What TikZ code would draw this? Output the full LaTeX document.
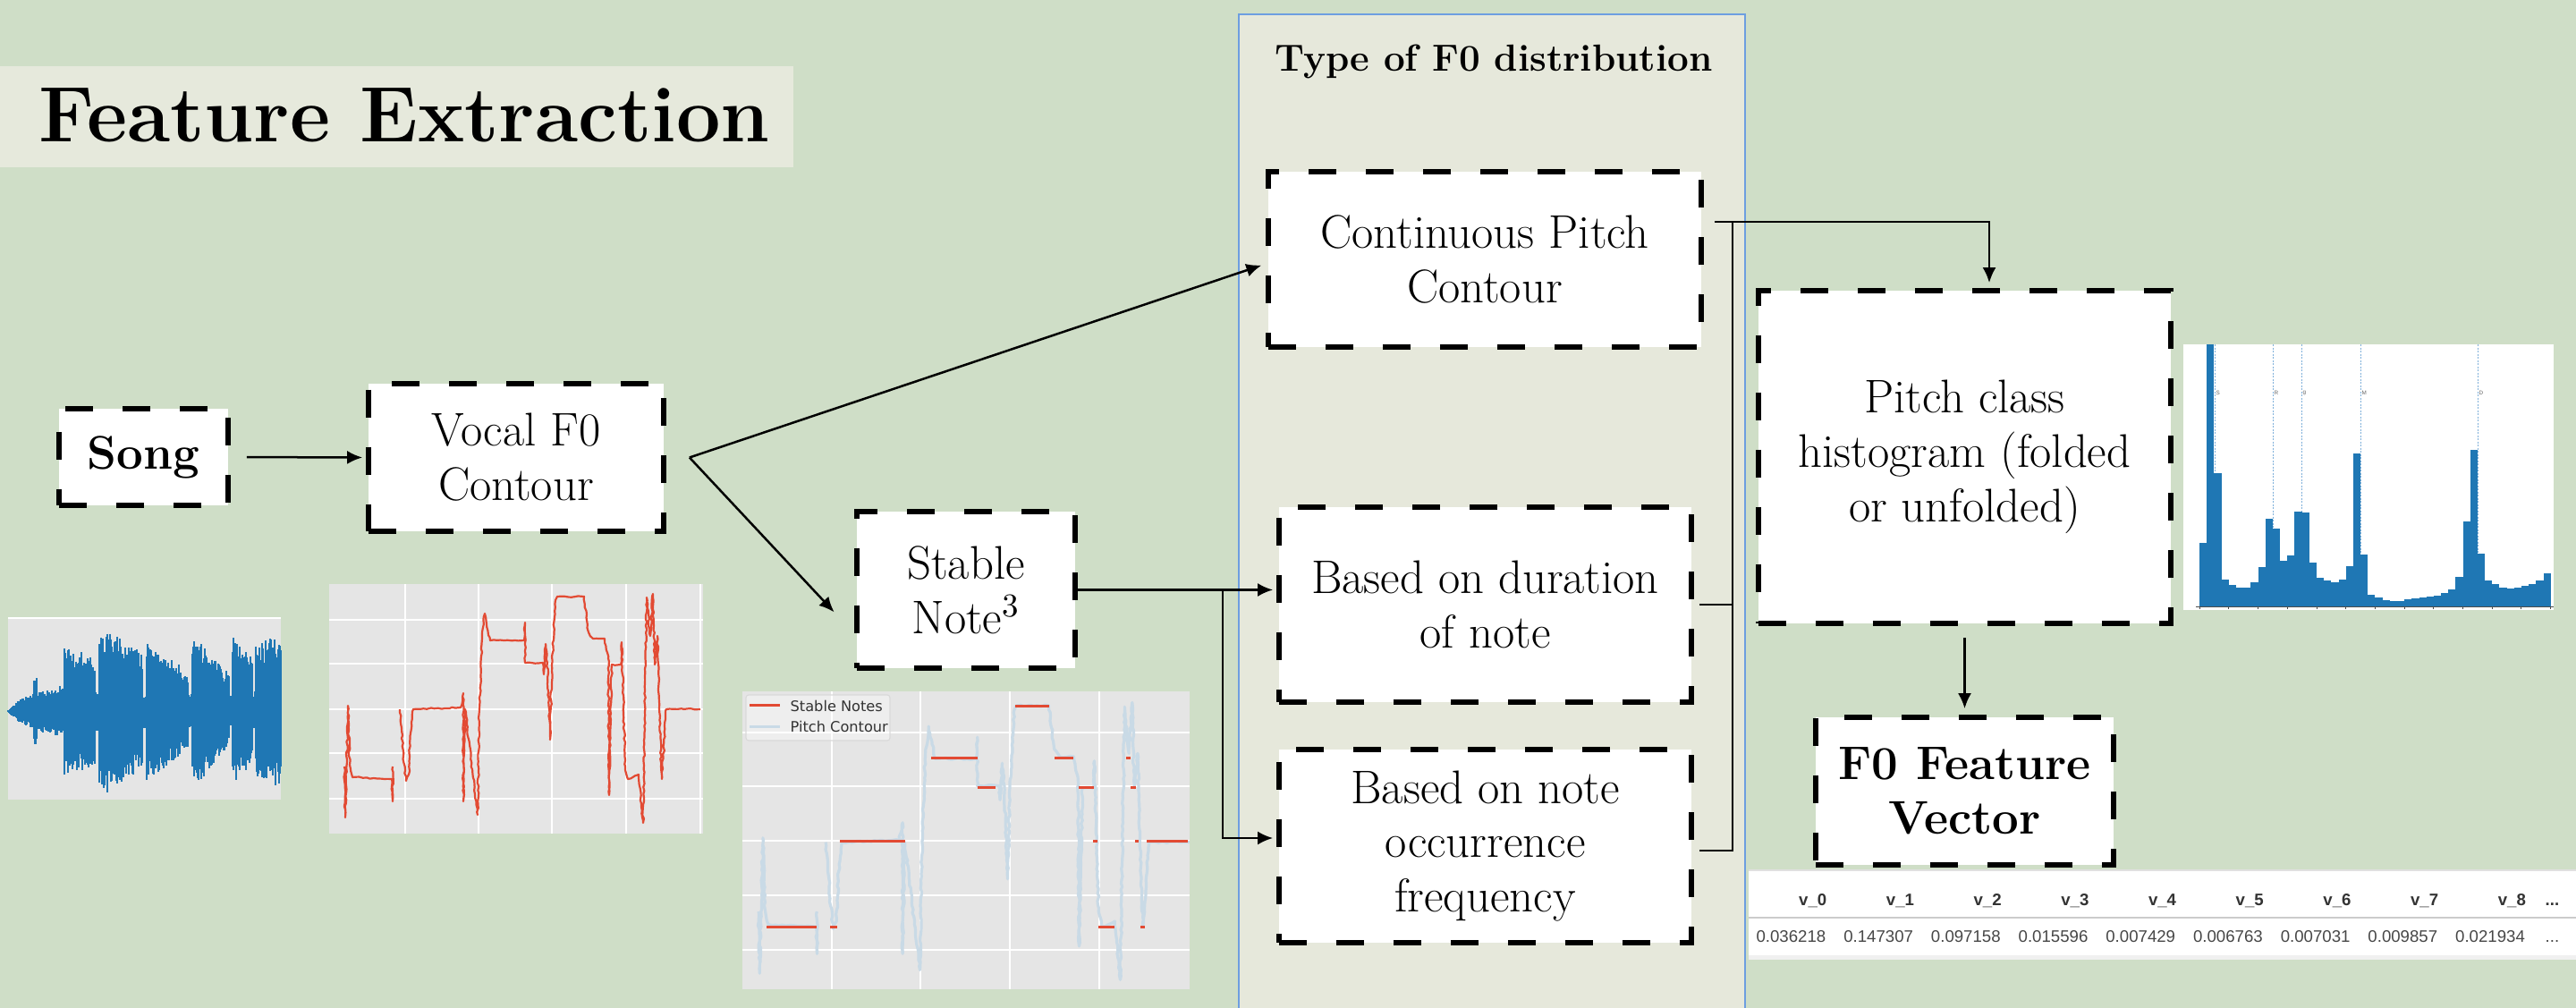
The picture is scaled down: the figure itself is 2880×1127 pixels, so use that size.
\documentclass[tikz,border=0pt]{standalone}
\usepackage{fontspec}
\newfontfamily\tabfont{Liberation Sans}
\newfontfamily\legfont{DejaVu Sans}
\usetikzlibrary{arrows.meta,decorations.pathmorphing}
\definecolor{bgc}{HTML}{CFDEC7}
\definecolor{titlefill}{HTML}{E6E9DC}
\definecolor{panelfill}{HTML}{E6E8DB}
\definecolor{panelline}{HTML}{6D9EE0}
\definecolor{plotbg}{HTML}{E5E5E5}
\definecolor{waveblue}{HTML}{1F77B4}
\definecolor{plotred}{HTML}{E24A33}
\definecolor{paleblue}{HTML}{C9DAE6}
\definecolor{dashblue}{HTML}{7FB0DA}
\tikzset{contour/.pic={
  \draw[decorate, decoration={random steps, segment length=0.04cm, amplitude=0.009cm}, line join=round]
  (385,857) -- (386,914) -- (389,789) -- (391,855) -- (394,869) -- (438,871) -- (439,896) -- (439,857)
  (447,793) -- (449,814) -- (451,845) -- (454,873) -- (457,866) -- (459,820) -- (462,793) -- (515,791)
  -- (518,775) -- (518,896) -- (520,793) -- (534,911) -- (536,793) -- (539,714) -- (542,686) -- (548,716)
  -- (586,716) -- (587,696) -- (587,741) -- (607,741) -- (608,754) -- (610,720) -- (612,741) -- (615,827)
  -- (617,743) -- (621,671) -- (623,667) -- (653,667) -- (658,707) -- (663,714) -- (676,714) -- (680,736)
  -- (681,889) -- (684,743) -- (694,743) -- (695,718) -- (699,857) -- (702,871) -- (714,866) -- (719,920)
  -- (723,668) -- (727,711) -- (730,664) -- (732,743) -- (735,711) -- (737,793) -- (740,871) -- (745,793)
  -- (783,793);
}}
\begin{document}
\begin{tikzpicture}[x=0.01cm,y=-0.01cm,
  dbox/.style={draw=black, fill=white, line width=0.055cm, dash pattern=on 0.31cm off 0.33cm,
    inner sep=0pt, align=center, font=\fontsize{15}{17.3}\selectfont},
  bbox/.style={dbox, font=\fontsize{15}{17.3}\selectfont\bfseries},
  conn/.style={line width=0.025cm},
  arr/.style={conn, -{Latex[length=0.17cm,width=0.15cm]}},
  grid/.style={white, line width=0.02cm}]
\pgfmathsetseed{7}
% background
\path[use as bounding box, fill=bgc] (0,0) rectangle (2880,1127);
% title
\node[fill=titlefill, minimum width=8.87cm, minimum height=1.13cm, inner sep=0pt] (titlebox) at (443.5,130.5) {};
\node[font=\fontsize{25}{30}\selectfont\bfseries, inner sep=0pt] (title) at (452,129) {Feature Extraction};
% panel
\fill[panelfill] (1385,16) rectangle (1951,1127);
\draw[panelline, line width=0.4pt] (1385,1127) |- (1951,16) -- (1951,1127);
\node[font=\fontsize{12}{14}\selectfont\bfseries, anchor=base, inner sep=0pt] (ptitle) at (1670,80) {Type of F0 distribution};

% waveform image
\fill[plotbg] (9,691) rectangle (314,894);
\draw[white, line width=0.02cm] (9,691) -- (314,691);
\foreach \xa/\xb/\aa/\ab in {9/20/1/12, 20/38/12/20, 38/41/38/38, 41/72/22/30, 72/106/74/62, 107/110/22/22,
  111/120/80/92, 120/159/92/65, 160/163/20/20, 164/210/78/46, 211/214/22/22, 215/256/88/42, 257/259/20/20,
  260/282/84/66, 283/285/22/22, 286/314/74/86}{
  \foreach \x in {\xa,...,\xb}{
    \pgfmathsetmacro\amp{\aa+(\ab-\aa)*(\x-\xa)/(\xb-\xa)}
    \pgfmathsetmacro\up{\amp*(0.66+0.34*rnd)}
    \pgfmathsetmacro\dn{\amp*(0.66+0.34*rnd)}
    \draw[waveblue, line width=0.013cm] (\x,795-\up) -- (\x,795+\dn);
  }
}

% red contour plot
\fill[plotbg] (368,653) rectangle (786,932);
\foreach \gx in {453,535,617,700,783} \draw[grid] (\gx,653) -- (\gx,932);
\foreach \gy in {693,742,793,842,893} \draw[grid] (368,\gy) -- (786,\gy);
\pic[color=plotred, line width=0.022cm] at (0,0) {contour};

% stable notes plot
\fill[plotbg] (830,773) rectangle (1330,1106);
\foreach \gx in {930,1029,1129,1229} \draw[grid] (\gx,773) -- (\gx,1106);
\foreach \gy in {819,879,940,1001,1062} \draw[grid] (830,\gy) -- (1330,\gy);
\pic[color=paleblue, line width=0.032cm, shift={(381.8,-18.7)}, scale=1.211] at (0,0) {contour};
\foreach \ya/\xa/\xb in {1036/857/913, 1036/928/936, 1036/1228/1246, 1036/1275/1280, 940/939/1012,
  940/1222/1227, 940/1269/1273, 940/1282/1328, 880/1093/1113, 880/1206/1223, 880/1264/1270,
  847/1041/1093, 847/1179/1200, 847/1259/1264, 789/1135/1173}
  \draw[plotred, line width=0.03cm] (\xa,\ya) -- (\xb,\ya);
\draw[fill=white, fill opacity=0.35, draw=black!15, line width=0.3pt, rounded corners=0.03cm] (834,777) rectangle (995,828);
\draw[plotred, line width=0.03cm] (838,788) -- (872,788);
\draw[paleblue, line width=0.03cm] (838,812) -- (872,812);
\node[font=\legfont\fontsize{4.6}{5}\selectfont, text=black!80, anchor=base west, inner sep=0pt] (leg1) at (883,795) {Stable Notes};
\node[font=\legfont\fontsize{4.6}{5}\selectfont, text=black!80, anchor=base west, inner sep=0pt] (leg2) at (883,818) {Pitch Contour};

% histogram
\fill[white] (2441,385) rectangle (2855,682);
\foreach \dx in {2476,2541,2573,2639,2770} \draw[dashblue, line width=0.008cm, dash pattern=on 0.02cm off 0.015cm] (\dx,385) -- (\dx,678);
\foreach \h [count=\i from 0] in {606.7,385,529.3,648.3,654,656.7,656.7,650.7,634,580,590.7,627.3,620.7,
  571.7,573.3,629.3,646,649.3,651,647.7,632.7,506.7,620,665,668.3,671,672.3,671.7,670,669,668.3,667.3,
  665.7,663.3,659.3,645,582.7,503.3,619.3,649,653.3,657.3,658.3,657.3,655,653.3,649.3,640.7}
  \fill[waveblue] ({2459.1+\i*8.18},678) rectangle ({2459.1+(\i+1)*8.18},\h);
\draw[black!70, line width=0.01cm] (2455,678) -- (2855,678);
\foreach \i in {0,...,12} \draw[black!70, line width=0.008cm] ({2459.1+\i*32.7},678) -- ({2459.1+\i*32.7},681);
\foreach \lx/\lt in {2477/S,2542/R,2574/g,2640/M,2771/D}
  \node[font=\tabfont\fontsize{1.8}{2}\selectfont, text=black!60, anchor=west, inner sep=0pt] at (\lx,439) {\lt};

% table
\fill[white] (1955,973) rectangle (2880,1073);
\draw[black!12, line width=0.02cm] (1955,973) -- (2880,973);
\draw[black!20, line width=0.025cm] (1955,1026) -- (2880,1026);
\fill[black!6] (1955,1068) rectangle (2880,1073);
\foreach \hd/\vl [count=\i from 0] in {v\_0/0.036218, v\_1/0.147307, v\_2/0.097158, v\_3/0.015596,
  v\_4/0.007429, v\_5/0.006763, v\_6/0.007031, v\_7/0.009857, v\_8/0.021934}{
  \node[font=\tabfont\bfseries\fontsize{5.3}{6}\selectfont, text=black!80, anchor=base east, inner sep=0pt] (th\i) at ({2043+\i*97.7},1012) {\hd};
  \node[font=\tabfont\fontsize{5.3}{6}\selectfont, text=black!72, anchor=base east, inner sep=0pt] (td\i) at ({2042+\i*97.7},1053) {\vl};
}
\node[font=\tabfont\bfseries\fontsize{5.3}{6}\selectfont, text=black!80, anchor=base west, inner sep=0pt] (thx) at (2845,1012) {...};
\node[font=\tabfont\fontsize{5.3}{6}\selectfont, text=black!72, anchor=base west, inner sep=0pt] (tdx) at (2845,1053) {...};

% boxes
\node[bbox, minimum width=1.89cm, minimum height=1.08cm] (song) at (160.5,511) {Song};
\node[dbox, minimum width=3.30cm, minimum height=1.65cm] (vocal) at (577,511.5) {Vocal F0\\Contour};
\node[dbox, minimum width=2.44cm, minimum height=1.75cm] (stable) at (1080,659.5) {Stable\\Note\textsuperscript{3}};
\node[dbox, minimum width=4.84cm, minimum height=1.96cm] (cont) at (1660,290) {Continuous Pitch\\Contour};
\node[dbox, minimum width=4.61cm, minimum height=2.18cm] (dur) at (1660.5,676) {Based on duration\\of note};
\node[dbox, minimum width=4.61cm, minimum height=2.16cm] (occ) at (1660.5,946) {Based on note\\occurrence\\frequency};
\node[dbox, minimum width=4.61cm, minimum height=3.72cm] (hist) at (2196.5,511) {Pitch class\\histogram (folded\\or unfolded)};
\node[bbox, minimum width=3.33cm, minimum height=1.65cm] (fvec) at (2196.5,884.5) {F0 Feature\\Vector};

% connectors
\coordinate (vs) at ([xshift=0.26cm]vocal.east);
\coordinate (sb) at ([xshift=1.62cm]stable.east);
\coordinate (jt) at ([xshift=0.32cm,yshift=0.42cm]cont.east);
\draw[arr, shorten <=0.18cm, shorten >=0.04cm] (song.east) -- (vocal.west);
\draw[arr, shorten >=0.05cm] (vs) -- ([yshift=-0.05cm]cont.west);
\draw[arr, shorten >=0.33cm] (vs) -- ([yshift=-0.49cm]stable.west);
\draw[arr, shorten >=0.04cm] (stable.east) -- (stable.east -| dur.west);
\draw[arr, shorten >=0.04cm] (sb) |- ([yshift=0.09cm]occ.west);
\draw[arr, shorten >=0.06cm] ([xshift=0.12cm,yshift=0.42cm]cont.east) -| ([xshift=0.275cm]hist.north);
\draw[conn, shorten >=0.06cm] (jt) |- ([yshift=-0.05cm]occ.east);
\draw[conn, shorten <=0.06cm] (dur.east) -- (dur.east -| jt);
\draw[arr, shorten <=0.13cm, shorten >=0.07cm] (hist.south) -- (fvec.north);
\end{tikzpicture}
\end{document}
